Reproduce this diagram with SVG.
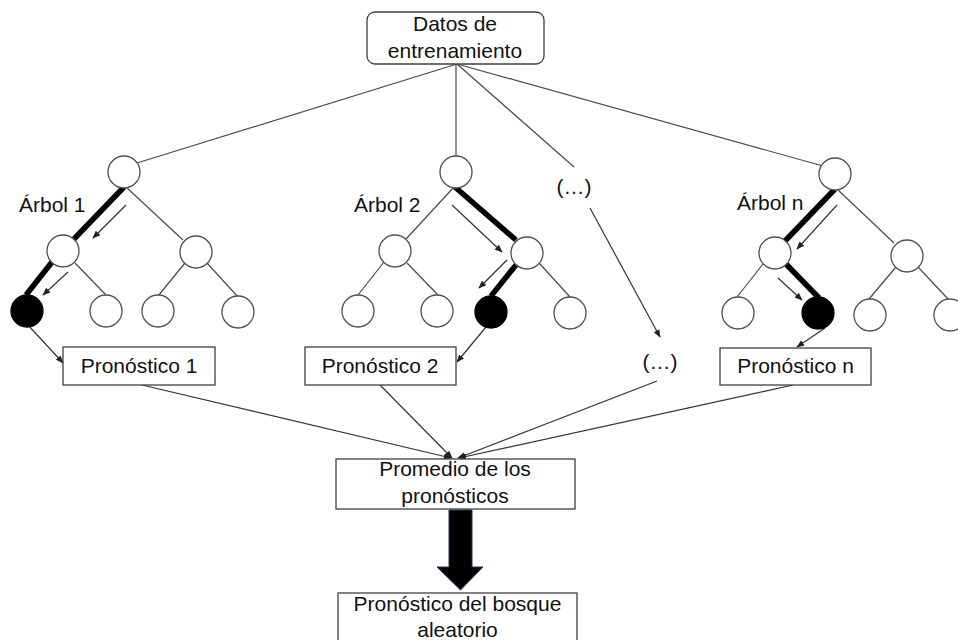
<svg xmlns="http://www.w3.org/2000/svg" width="958" height="640" viewBox="0 0 958 640">
<defs>
<marker id="ah" viewBox="0 0 10 10" refX="9" refY="5" markerWidth="8" markerHeight="8" markerUnits="userSpaceOnUse" orient="auto"><path d="M0,1 L10,5 L0,9 Z" fill="#222"/></marker>
<style>
text{font-family:"Liberation Sans",Arial,sans-serif;font-size:21px;fill:#111;text-anchor:middle}
.lbl{text-anchor:start}
.box{fill:#fff;stroke:#404040;stroke-width:1.3}
.nd{fill:#fff;stroke:#505050;stroke-width:1.3}
.leaf{fill:#000;stroke:#000;stroke-width:1.3}
.e{stroke:#4a4a4a;stroke-width:1.2;fill:none}
.thk{stroke:#000;stroke-width:5.5;fill:none}
.a{stroke:#333;stroke-width:1.2;fill:none;marker-end:url(#ah)}
</style>
</defs>
<g id="connectors">
<line class="e" x1="457" y1="64" x2="137" y2="163"/>
<line class="e" x1="456" y1="64" x2="456" y2="156"/>
<line class="e" x1="457" y1="64" x2="574" y2="167"/>
<line class="e" x1="457" y1="64" x2="823" y2="166"/>
<!-- tree 1 -->
<line class="thk" x1="124" y1="187" x2="74" y2="239"/>
<line class="e" x1="126" y1="187" x2="183" y2="240"/>
<line class="thk" x1="52" y1="262" x2="26" y2="295"/>
<line class="e" x1="75" y1="263" x2="106" y2="295"/>
<line class="e" x1="185" y1="263" x2="158" y2="296"/>
<line class="e" x1="207" y1="263" x2="238" y2="297"/>
<line class="a" x1="126" y1="205" x2="93" y2="238"/>
<line class="a" x1="68" y1="272" x2="43" y2="295"/>
<!-- tree 2 -->
<line class="e" x1="454" y1="187" x2="406" y2="239"/>
<line class="thk" x1="455" y1="187" x2="516" y2="240"/>
<line class="e" x1="384" y1="262" x2="358" y2="295"/>
<line class="e" x1="407" y1="263" x2="438" y2="295"/>
<line class="thk" x1="516" y1="265" x2="491" y2="296"/>
<line class="e" x1="539" y1="263" x2="570" y2="297"/>
<line class="a" x1="452" y1="205" x2="502" y2="252"/>
<line class="a" x1="507" y1="260" x2="479" y2="288"/>
<!-- tree n -->
<line class="thk" x1="835" y1="189" x2="785" y2="241"/>
<line class="e" x1="837" y1="189" x2="894" y2="243"/>
<line class="e" x1="763" y1="264" x2="737" y2="297"/>
<line class="thk" x1="786" y1="264" x2="819" y2="298"/>
<line class="e" x1="896" y1="267" x2="869" y2="299"/>
<line class="e" x1="918" y1="267" x2="949" y2="300"/>
<line class="a" x1="837" y1="205" x2="797" y2="249"/>
<line class="a" x1="778" y1="278" x2="802" y2="300"/>
<!-- to predictions -->
<line class="a" x1="28" y1="325" x2="63" y2="363"/>
<line class="a" x1="486" y1="327" x2="457" y2="362"/>
<line class="a" x1="825" y1="328" x2="797" y2="347"/>
<line class="a" x1="590" y1="208" x2="660" y2="337"/>
<!-- to average -->
<line class="a" x1="142" y1="385" x2="451" y2="458"/>
<line class="a" x1="380" y1="385" x2="452" y2="458"/>
<line class="a" x1="657" y1="381" x2="458" y2="458"/>
<line class="a" x1="793" y1="385" x2="459" y2="458"/>
<polygon points="449,510 472,510 472,567 483,567 460.5,590 437,567 449,567" fill="#000" stroke="#1f3864" stroke-width="1"/>
</g>
<g id="datos"><rect class="box" x="367" y="12" width="177" height="52" rx="8"/><text x="455" y="31">Datos de</text><text x="455" y="58">entrenamiento</text></g>
<g id="t1-root"><circle class="nd" cx="124" cy="172" r="16"/></g>
<g id="t1-l"><circle class="nd" cx="63" cy="251" r="16"/></g>
<g id="t1-r"><circle class="nd" cx="196" cy="252" r="16"/></g>
<g id="t1-a"><circle class="leaf" cx="27" cy="311" r="16"/></g>
<g id="t1-b"><circle class="nd" cx="106" cy="311" r="16"/></g>
<g id="t1-c"><circle class="nd" cx="158" cy="311" r="16"/></g>
<g id="t1-d"><circle class="nd" cx="238" cy="312" r="16"/></g>
<g id="t2-root"><circle class="nd" cx="456" cy="172" r="16"/></g>
<g id="t2-l"><circle class="nd" cx="395" cy="251" r="16"/></g>
<g id="t2-r"><circle class="nd" cx="527" cy="253" r="16"/></g>
<g id="t2-a"><circle class="nd" cx="358" cy="311" r="16"/></g>
<g id="t2-b"><circle class="nd" cx="437" cy="311" r="16"/></g>
<g id="t2-c"><circle class="leaf" cx="491" cy="312" r="16"/></g>
<g id="t2-d"><circle class="nd" cx="570" cy="313" r="16"/></g>
<g id="tn-root"><circle class="nd" cx="835" cy="174" r="16"/></g>
<g id="tn-l"><circle class="nd" cx="775" cy="253" r="16"/></g>
<g id="tn-r"><circle class="nd" cx="907" cy="256" r="16"/></g>
<g id="tn-a"><circle class="nd" cx="738" cy="313" r="16"/></g>
<g id="tn-b"><circle class="leaf" cx="818" cy="313" r="16"/></g>
<g id="tn-c"><circle class="nd" cx="870" cy="315" r="16"/></g>
<g id="tn-d"><circle class="nd" cx="950" cy="315" r="16"/></g>
<g id="lbl-arbol1"><text class="lbl" x="19" y="212">Árbol 1</text></g>
<g id="lbl-arbol2"><text class="lbl" x="354" y="212">Árbol 2</text></g>
<g id="lbl-arboln"><text class="lbl" x="737" y="210">Árbol n</text></g>
<g id="dots-top"><text x="574" y="194">(…)</text></g>
<g id="pron1"><rect class="box" x="63" y="347" width="152" height="38"/><text x="139" y="373">Pronóstico 1</text></g>
<g id="pron2"><rect class="box" x="305" y="347" width="151" height="38"/><text x="380" y="373">Pronóstico 2</text></g>
<g id="dots-mid"><text x="660" y="369">(…)</text></g>
<g id="pronn"><rect class="box" x="720" y="348" width="151" height="37"/><text x="795.5" y="373">Pronóstico n</text></g>
<g id="promedio"><rect class="box" x="336" y="459" width="239" height="50"/><text x="455" y="476">Promedio de los</text><text x="455" y="503">pronósticos</text></g>
<g id="final"><rect class="box" x="338" y="593" width="239" height="60"/><text x="457.5" y="611">Pronóstico del bosque</text><text x="457.5" y="637">aleatorio</text></g>
</svg>
